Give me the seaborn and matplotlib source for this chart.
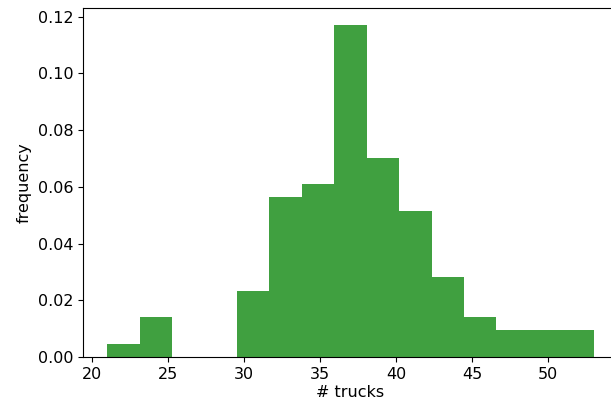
import numpy as np
import pandas as pd
import seaborn as sns
import matplotlib.pyplot as plt

# histogram of trucks per day, 100 observations in 15 bins between 21 and 53
bin_edges = list(np.linspace(21, 53, 16))
bin_counts = [1, 3, 0, 0, 5, 12, 13, 25, 15, 11, 6, 3, 2, 2, 2]

centers = [(a + b) / 2 for a, b in zip(bin_edges[:-1], bin_edges[1:])]
df = pd.DataFrame({"trucks": centers, "count": bin_counts})

plt.rcParams["font.size"] = 11.5

fig = plt.figure(figsize=(6.11, 4.11), dpi=100)
ax = fig.add_axes([83 / 611, 54 / 411, 535 / 611, 349 / 411])

sns.histplot(data=df, x="trucks", weights="count", bins=bin_edges,
             stat="density", color="g", alpha=0.75, linewidth=0, ax=ax)

ax.set_xlabel("# trucks", labelpad=2)
ax.set_ylabel("frequency")
ax.set_xticks([20, 25, 30, 35, 40, 45, 50])
ax.set_yticks([0.0, 0.02, 0.04, 0.06, 0.08, 0.10, 0.12])
ax.set_yticklabels(["0.00", "0.02", "0.04", "0.06", "0.08", "0.10", "0.12"])

fig.savefig("out.png", dpi=100)
